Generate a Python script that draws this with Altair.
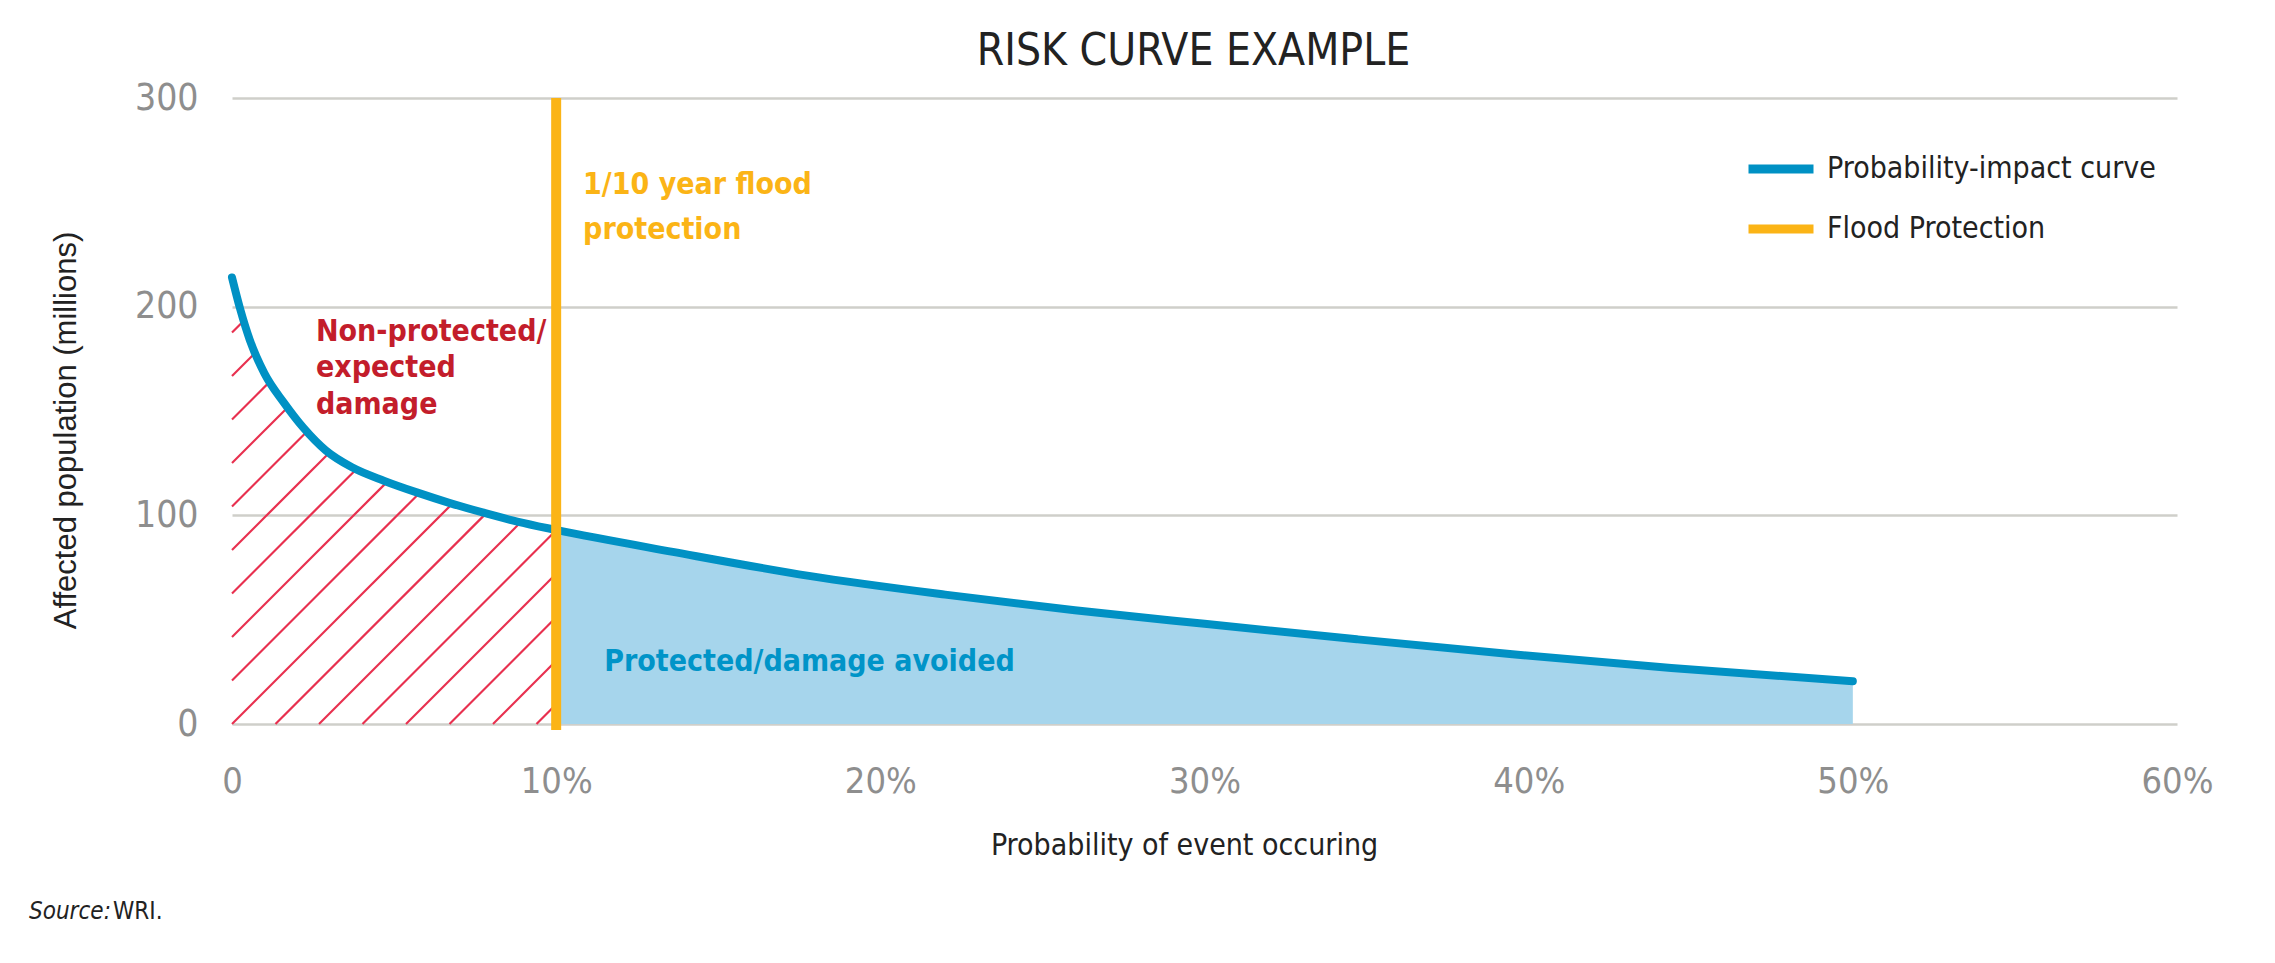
import altair as alt
import pandas as pd
import numpy as np

# ---------------- data ----------------
prob = [0, 0.25, 0.55, 1.0, 1.6, 2.2, 2.9, 3.7, 4.7, 5.7, 6.7, 7.7, 8.8, 10,
        13.6, 17.8, 22, 26, 30, 34.7, 39.5, 44.4, 50]
pop = [214, 199, 184, 168, 154, 142, 131, 123, 116.5, 111, 106, 101.5, 97, 93,
       82.5, 71, 62, 54.5, 48, 40.6, 33.4, 26.8, 20.5]

series_names = ["Probability-impact curve", "Flood Protection"]
series_colors = ["#0091c4", "#fbb416"]
protection_level = 10
x_ticks = [0, 10, 20, 30, 40, 50, 60]
y_ticks = [0, 100, 200, 300]

orange_text = ["1/10 year flood", "protection"]
orange_x = [10.83, 10.83]
orange_y = [258.3, 236.7]
red_text = ["Non-protected/", "expected", "damage"]
red_x = [2.59, 2.59, 2.59]
red_y = [188.0, 170.5, 152.9]
blue_text = ["Protected/damage avoided"]
blue_x = [11.48]
blue_y = [29.5]

# ---------------- layout ----------------
W, H = 1945, 626
XMAX, YMAX = 60, 300
NARROW = "Liberation Sans Narrow, DejaVu Sans Condensed, Liberation Sans, sans-serif"
REG = "Liberation Sans, Arial, sans-serif"

df_curve = pd.DataFrame({"prob": prob, "pop": pop, "series": series_names[0]})
df_area = df_curve[df_curve["prob"] >= protection_level]
df_fp = pd.DataFrame({"prob": [protection_level], "top": [300], "bottom": [0],
                      "series": [series_names[1]]})

# hatch texture (45 degree lines in screen space) clipped under the curve left of protection line
kx, ky = W / XMAX, H / YMAX
px = np.array(prob) * kx
py = np.array(pop) * ky
xb = protection_level * kx
fine = np.linspace(0, xb, 4001)
fy = np.interp(fine, px, py)
spacing = 43.5
rows = []
for k in range(-15, 12):
    c = k * spacing
    if c >= 0:
        x0, y0 = c, 0.0
    else:
        x0, y0 = 0.0, -c
    if x0 >= xb or y0 >= fy[0]:
        continue
    g = fy - (fine - c)
    idx = np.where((g <= 0) & (fine >= x0))[0]
    if len(idx):
        i = idx[0]
        if i > 0:
            t = g[i - 1] / (g[i - 1] - g[i])
            x1 = fine[i - 1] + t * (fine[i] - fine[i - 1])
        else:
            x1 = fine[i]
    else:
        x1 = xb
    y1 = x1 - c
    rows.append({"x0": x0 / kx, "y0": y0 / ky, "x1": x1 / kx, "y1": y1 / ky})
df_hatch = pd.DataFrame(rows)

xscale = alt.Scale(domain=[0, XMAX], nice=False, zero=True)
yscale = alt.Scale(domain=[0, YMAX], nice=False)
xaxis = alt.Axis(values=x_ticks, labelExpr="datum.value == 0 ? '0' : datum.value + '%'",
                 grid=False, domain=False, ticks=False, tickSize=0, labelFlush=False,
                 labelFont=NARROW, labelFontSize=36, labelColor="#8e8e8e",
                 labelPadding=57, labelBaseline="middle",
                 title="Probability of event occuring", titleFont=NARROW, titleFontSize=30,
                 titleFontWeight="normal", titleColor="#222222", titleX=952, titleY=121,
                 titleBaseline="middle", titleAlign="center")
yaxis = alt.Axis(values=y_ticks, grid=True, gridColor="#cfcfca", gridWidth=2.5,
                 domain=False, ticks=False, tickSize=0,
                 labelFont=NARROW, labelFontSize=37, labelColor="#8e8e8e", labelPadding=34,
                 title="Affected population (millions)", titleFont=REG, titleFontSize=31,
                 titleFontWeight="normal", titleColor="#222222", titleX=-166, titleY=332,
                 titleAlign="center", titleBaseline="middle")


def X(f):
    return alt.X(f"{f}:Q", scale=xscale, axis=xaxis)


def Y(f):
    return alt.Y(f"{f}:Q", scale=yscale, axis=yaxis)


cscale = alt.Scale(domain=series_names, range=series_colors)
legend = alt.Legend(title=None, orient="none", legendX=1512, legendY=34,
                    symbolType="stroke", symbolStrokeWidth=9, symbolSize=4225,
                    labelFont=NARROW, labelFontSize=30, labelColor="#222222",
                    labelOffset=9, labelLimit=1000, rowPadding=5, padding=0)

area = alt.Chart(df_area).mark_area(color="#a6d5ec", interpolate="monotone").encode(
    x=X("prob"), y=Y("pop"))
hatch = alt.Chart(df_hatch).mark_rule(color="#e8304f", strokeWidth=2.2).encode(
    x=X("x0"), y=Y("y0"), x2="x1:Q", y2="y1:Q")
curve = alt.Chart(df_curve).mark_line(strokeWidth=8, strokeCap="round",
                                      interpolate="monotone").encode(
    x=X("prob"), y=Y("pop"),
    color=alt.Color("series:N", scale=cscale, legend=legend, sort=series_names))
fp = alt.Chart(df_fp).mark_rule(strokeWidth=10, strokeCap="butt", y2Offset=6).encode(
    x=X("prob"), y=Y("top"), y2="bottom:Q",
    color=alt.Color("series:N", scale=cscale, legend=legend, sort=series_names))


def text_layer(xs, ys, texts, color):
    d = pd.DataFrame({"x": xs, "y": ys, "label": texts})
    return alt.Chart(d).mark_text(align="left", baseline="middle", font=NARROW,
                                  fontSize=30, fontWeight="bold", color=color).encode(
        x=X("x"), y=Y("y"), text="label:N")


t_orange = text_layer(orange_x, orange_y, orange_text, "#fbb416")
t_red = text_layer(red_x, red_y, red_text, "#c31d2b")
t_blue = text_layer(blue_x, blue_y, blue_text, "#0094c8")

src1 = alt.Chart(pd.DataFrame({"t": ["Source:"]})).mark_text(
    align="left", baseline="middle", font=NARROW, fontSize=24, fontStyle="italic",
    color="#222222").encode(x=alt.value(-203), y=alt.value(814), text="t:N")
src2 = alt.Chart(pd.DataFrame({"t": ["WRI."]})).mark_text(
    align="left", baseline="middle", font=NARROW, fontSize=24,
    color="#222222").encode(x=alt.value(-119), y=alt.value(814), text="t:N")

chart = alt.layer(area, hatch, curve, fp, t_orange, t_red, t_blue, src1, src2).properties(
    width=W, height=H,
    title=alt.TitleParams("RISK CURVE EXAMPLE", font=NARROW, fontSize=44,
                          fontWeight="normal", color="#222222", anchor="middle",
                          offset=5, dx=-11),
    padding={"left": 224, "top": 90, "right": 90, "bottom": 230},
    autosize=alt.AutoSizeParams(type="none"),
).configure_view(stroke=None)

chart.save("out.html", embed_options={"renderer": "svg", "actions": False})
